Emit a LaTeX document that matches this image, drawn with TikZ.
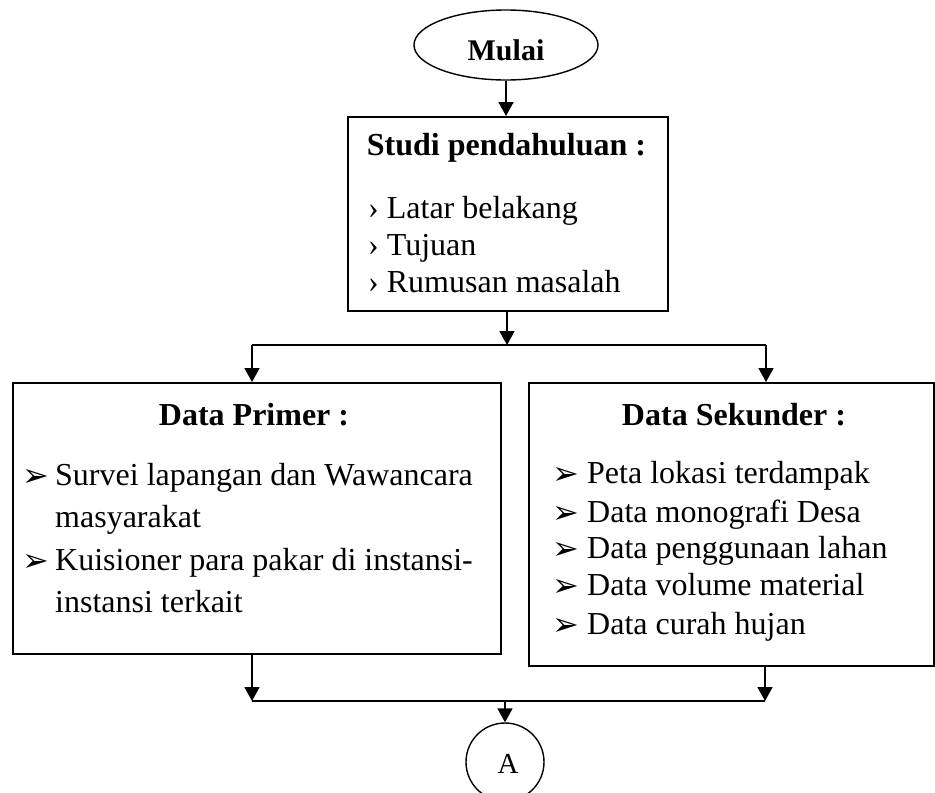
\documentclass[tikz,border=0pt]{standalone}
\usepackage{fontspec}
\setmainfont{Liberation Serif}
\newfontfamily\symfont{DejaVu Sans}
\usetikzlibrary{shapes.geometric,arrows.meta}

\begin{document}
\begin{tikzpicture}[x=1pt,y=-1pt,
  box/.style={draw,line width=1.8pt,rectangle,inner sep=0pt,anchor=north west},
  flow/.style={line width=1.8pt,-{Triangle[width=15pt,length=14pt]}},
  link/.style={line width=1.8pt},
  body/.style={font=\fontsize{32}{37}\selectfont,anchor=base west,inner sep=0pt},
  head/.style={font=\fontsize{32}{37}\selectfont\bfseries,anchor=base,inner sep=0pt},
  bulletmark/.style={font=\symfont\bfseries\fontsize{32}{37}\selectfont,anchor=base west,inner sep=0pt},
]
\useasboundingbox (0,0) rectangle (935,793);
\clip (0,0) rectangle (935,793);

% start terminal
\node[draw,ellipse,line width=1.4pt,minimum width=184pt,minimum height=70pt,inner sep=0pt] (mulai) at (506,45) {};
\node[font=\fontsize{30}{34}\selectfont\bfseries,anchor=base,inner sep=0pt] (mulaitxt) at (506,60) {Mulai};

% preliminary study
\node[box,minimum width=320pt,minimum height=194pt] (studi) at (347,116) {};
\node[head] (studih) at (506.5,155) {Studi pendahuluan :};
\node[body] (s1) at (368,218) {› Latar belakang};
\node[body] (s2) at (368,255) {› Tujuan};
\node[body] (s3) at (368,292) {› Rumusan masalah};

% primary data
\node[box,minimum width=488pt,minimum height=271pt] (primer) at (12,382) {};
\node[head] (primerh) at (254,425) {Data Primer :};
\node[bulletmark] (pb1) at (22,486) {➢};
\node[body] (p1) at (55,485) {Survei lapangan dan Wawancara};
\node[body] (p1b) at (55,527) {masyarakat};
\node[bulletmark] (pb2) at (22,571) {➢};
\node[body] (p2) at (55,570) {Kuisioner para pakar di instansi-};
\node[body] (p2b) at (55,612) {instansi terkait};

% secondary data
\node[box,minimum width=405pt,minimum height=283pt] (sekunder) at (528,382) {};
\node[head] (sekunderh) at (734,425) {Data Sekunder :};
\node[bulletmark] (kb1) at (552,484) {➢};
\node[body] (k1) at (587,483) {Peta lokasi terdampak};
\node[bulletmark] (kb2) at (552,523) {➢};
\node[body] (k2) at (587,522) {Data monografi Desa};
\node[bulletmark] (kb3) at (552,559) {➢};
\node[body] (k3) at (587,558) {Data penggunaan lahan};
\node[bulletmark] (kb4) at (552,596) {➢};
\node[body] (k4) at (587,595) {Data volume material};
\node[bulletmark] (kb5) at (552,635) {➢};
\node[body] (k5) at (587,634) {Data curah hujan};

% off-page connector
\node[draw,circle,line width=1.4pt,minimum size=78pt,inner sep=0pt] (conA) at (505,762) {};
\node[font=\fontsize{29}{33}\selectfont,anchor=base,inner sep=0pt] (conAtxt) at (508,773) {A};

% branching points
\coordinate (split) at (507,345);
\coordinate (jl) at (252,345);
\coordinate (jr) at (766,345);
\coordinate (bl) at (252,701);
\coordinate (br) at (765,701);
\coordinate (bm) at (505,701);

% connectors
\draw[flow] (mulai.south) -- (mulai.south |- studi.north);
\draw[flow] (studi.south -| split) -- (split);
\draw[link] (jl) -- (jr);
\draw[flow] (jl) -- (jl |- primer.north);
\draw[flow] (jr) -- (jr |- sekunder.north);
\draw[flow] (primer.south -| bl) -- (bl);
\draw[flow] (sekunder.south -| br) -- (br);
\draw[link] (bl) -- (br);
\draw[flow] (bm) -- (conA.north);
\end{tikzpicture}
\end{document}
